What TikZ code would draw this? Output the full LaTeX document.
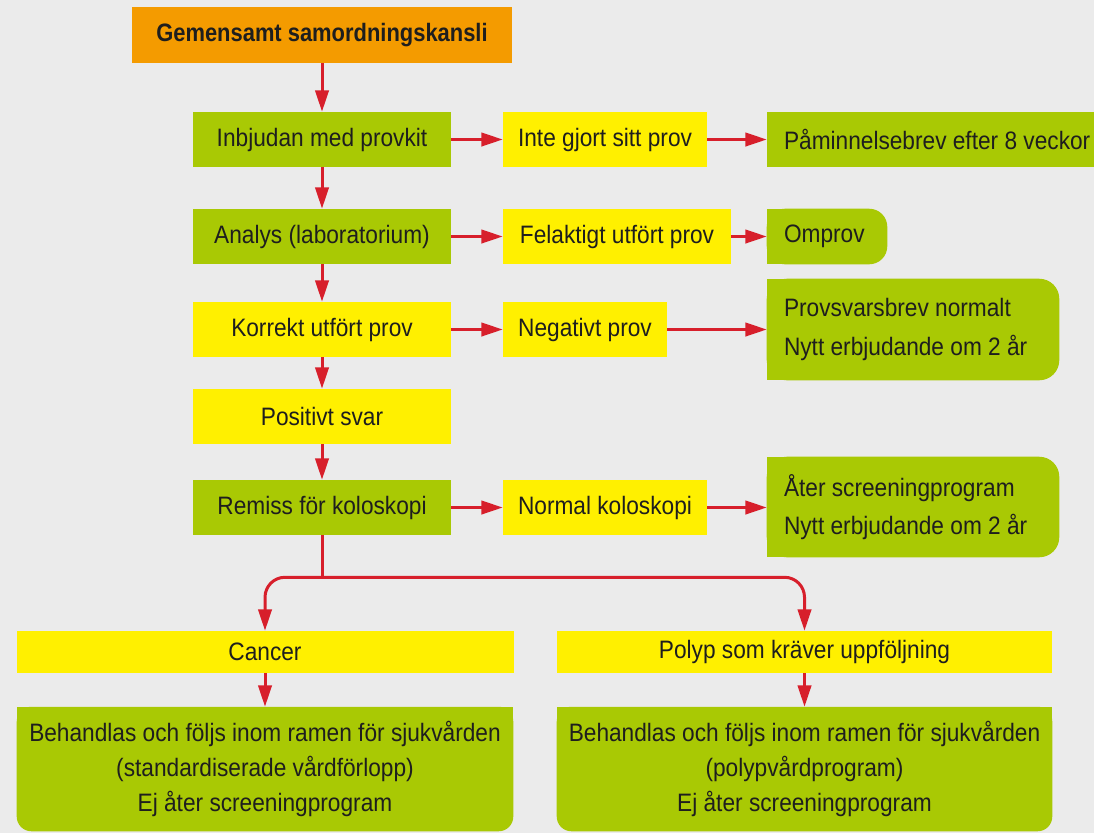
\documentclass[tikz,border=0pt]{standalone}
\usepackage{fontspec}
\setmainfont{Liberation Sans}[FakeStretch=0.9]
\newfontfamily\kanslifont{Liberation Sans}[FakeStretch=0.87]
\usetikzlibrary{arrows.meta,backgrounds}

\definecolor{bggray}{HTML}{EBEBEB}
\definecolor{kansliorange}{HTML}{F49B00}
\definecolor{boxgreen}{HTML}{A9C904}
\definecolor{boxyellow}{HTML}{FFF000}
\definecolor{arrowred}{HTML}{D71F2B}
\definecolor{textdark}{HTML}{1E1E1E}

\tikzset{
    every node/.style={font=\fontsize{18.9}{29}\selectfont, text=textdark, inner sep=0pt},
    box/.style={minimum height=41.25pt},
    greenbox/.style={box, fill=boxgreen, minimum width=#1},
    yellowbox/.style={box, fill=boxyellow, minimum width=#1},
    rightbox/.style={box, align=flush left, inner xsep=12.75pt, text width=#1},
    link/.style={draw=arrowred, line width=2.25pt},
    arrow/.style={link, -{Triangle[length=16pt,width=10pt]}},
}

\begin{document}
\begin{tikzpicture}[x=0.75pt, y=-0.75pt]

    \useasboundingbox (0,0) rectangle (1094,833);

    % main column
    \node[box, fill=kansliorange, minimum width=285pt, minimum height=42pt,
          font=\kanslifont\bfseries\fontsize{18.9}{29}\selectfont] (kansli) at (322,35) {Gemensamt samordningskansli};
    \node[greenbox=193.5pt] (inbjudan) at (322,139.5) {Inbjudan med provkit};
    \node[greenbox=193.5pt] (analys) at (322,236.5) {Analys (laboratorium)};
    \node[yellowbox=193.5pt] (korrekt) at (322,329.5) {Korrekt utfört prov};
    \node[yellowbox=193.5pt] (positivt) at (322,416.5) {Positivt svar};
    \node[greenbox=193.5pt] (remiss) at (322,507.5) {Remiss för koloskopi};

    % middle column
    \node[yellowbox=153pt] (inte) at (605,139.5) {Inte gjort sitt prov};
    \node[yellowbox=171pt] (felakt) at (617,236.5) {Felaktigt utfört prov};
    \node[yellowbox=123pt] (negativt) at (585,329.5) {Negativt prov};
    \node[yellowbox=153pt] (normal) at (605,507.5) {Normal koloskopi};

    % right column
    \node[rightbox=261.75pt, fill=boxgreen] (paminn) at (958.5,139.5) {Påminnelsebrev efter 8 veckor};
    \node[rightbox=64.5pt] (omprov) at (827,236.5) {Omprov};
    \node[rightbox=193.5pt, minimum height=75.75pt] (provsvar) at (913,329.5) {Provsvarsbrev normalt\\Nytt erbjudande om 2 år};
    \node[rightbox=193.5pt, minimum height=75pt] (ater) at (913,507) {Åter screeningprogram\\Nytt erbjudande om 2 år};

    % bottom rows
    \node[yellowbox=372.75pt, minimum height=31.5pt] (cancer) at (265,652) {Cancer};
    \node[yellowbox=371.25pt, minimum height=31.5pt] (polyp) at (804.5,652) {Polyp som kräver uppföljning};
    \node[box, align=flush center, minimum width=372pt, minimum height=93pt,
          font=\fontsize{18.9}{26.25}\selectfont] (beh1) at (265,769)
          {Behandlas och följs inom ramen för sjukvården\\(standardiserade vårdförlopp)\\Ej åter screeningprogram};
    \node[box, align=flush center, minimum width=371.25pt, minimum height=93pt,
          font=\fontsize{18.9}{26.25}\selectfont] (beh2) at (804.5,769)
          {Behandlas och följs inom ramen för sjukvården\\(polypvårdprogram)\\Ej åter screeningprogram};

    \begin{scope}[on background layer]
        \fill[bggray] (0,0) rectangle (1094,833);
        \fill[boxgreen, rounded corners=13.5pt] (omprov.north west) rectangle (omprov.south east);
        \fill[boxgreen] (omprov.north west) rectangle (omprov.south);
        \fill[boxgreen, rounded corners=15pt] (provsvar.north west) rectangle (provsvar.south east);
        \fill[boxgreen] (provsvar.north west) rectangle (provsvar.south);
        \fill[boxgreen, rounded corners=15pt] (ater.north west) rectangle (ater.south east);
        \fill[boxgreen] (ater.north west) rectangle (ater.south);
        \fill[boxgreen, rounded corners=11pt] (beh1.north west) rectangle (beh1.south east);
        \fill[boxgreen] (beh1.north west) rectangle (beh1.east);
        \fill[boxgreen, rounded corners=11pt] (beh2.north west) rectangle (beh2.south east);
        \fill[boxgreen] (beh2.north west) rectangle (beh2.east);
    \end{scope}

    % connectors
    \draw[arrow] (kansli) -- (inbjudan);
    \draw[arrow] (inbjudan) -- (analys);
    \draw[arrow] (analys) -- (korrekt);
    \draw[arrow] (korrekt) -- (positivt);
    \draw[arrow] (positivt) -- (remiss);

    \draw[arrow] (inbjudan) -- (inte);
    \draw[arrow] (inte) -- (inte.east -| paminn.west);
    \draw[arrow] (analys) -- (felakt);
    \draw[arrow] (felakt) -- (omprov);
    \draw[arrow] (korrekt) -- (negativt);
    \draw[arrow] (negativt) -- (provsvar);
    \draw[arrow] (remiss) -- (normal);
    \draw[arrow] (normal) -- (normal.east -| ater.west);

    \coordinate (split) at ([yshift=-31.5pt]remiss.south);
    \draw[link] (remiss) -- (split);
    \draw[arrow, rounded corners=15pt] (split) -| (cancer);
    \draw[arrow, rounded corners=15pt] (split) -| (polyp);
    \draw[arrow] (cancer) -- (beh1);
    \draw[arrow] (polyp) -- (beh2);

\end{tikzpicture}
\end{document}
